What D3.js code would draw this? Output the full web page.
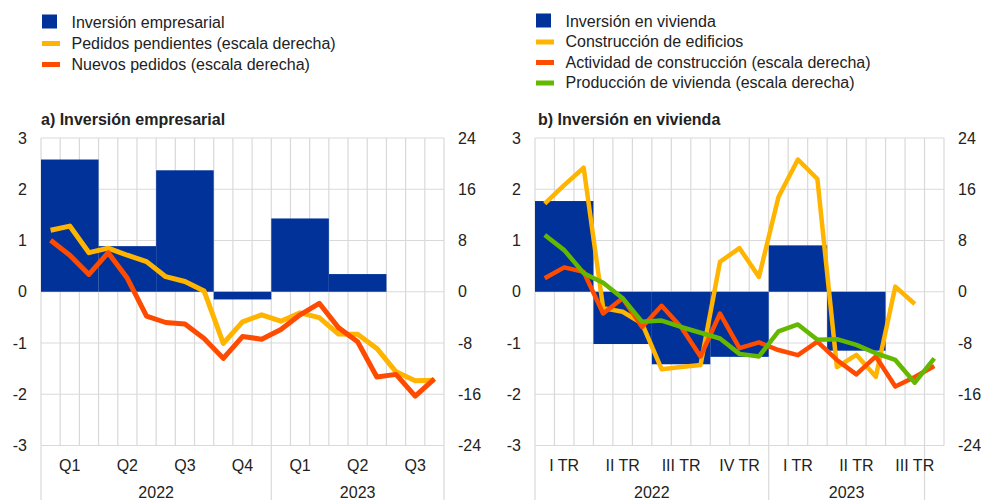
<!DOCTYPE html>
<html>
<head>
<meta charset="utf-8">
<script src="https://cdn.jsdelivr.net/npm/d3@7"></script>
<style>
  body { margin: 0; background: #fff; }
  text { font-family: "Liberation Sans", Arial, sans-serif; fill: #222; }
</style>
</head>
<body>
<svg id="chart"></svg>
<script>
const width = 981;
const height = 500;

// months Jan 2022 .. Sep 2023
const months = d3.range(21);
const quartersA = ['Q1', 'Q2', 'Q3', 'Q4', 'Q1', 'Q2', 'Q3'];
const quartersB = ['I TR', 'II TR', 'III TR', 'IV TR', 'I TR', 'II TR', 'III TR'];
const years = ['2022', '2023'];
const leftTicks = [-3, -2, -1, 0, 1, 2, 3];
const rightTicks = [-24, -16, -8, 0, 8, 16, 24];

// a) business investment (quarterly, left scale)
const businessInvestment = [2.58, 0.89, 2.37, -0.15, 1.43, 0.345];
// monthly, right scale
const pendingOrders = [9.6, 10.25, 6.1, 6.8, 5.7, 4.7, 2.35, 1.6, 0.1, -8.05, -4.7, -3.6,
  -4.6, -3.3, -4.05, -6.6, -6.65, -8.85, -12.5, -13.9, -13.8];
const newOrders = [8.05, 5.7, 2.7, 6.1, 2.1, -3.8, -4.8, -5.05, -7.3, -10.4, -7.0, -7.4,
  -5.9, -3.6, -1.8, -5.6, -7.8, -13.3, -12.9, -16.3, -13.6];

// b) housing investment (quarterly, left scale)
const housingInvestment = [1.77, -1.02, -1.415, -1.27, 0.905, -1.15];
// monthly, left scale
const buildingConstruction = [1.72, 2.08, 2.42, -0.32, -0.39, -0.62, -1.51, -1.47, -1.43, 0.585, 0.85, 0.29,
  1.85, 2.58, 2.2, -1.47, -1.23, -1.66, 0.1, -0.24, null];
// monthly, right scale
const constructionActivity = [2.1, 3.8, 3.1, -3.4, -1.0, -5.5, -2.2, -5.5, -10.1, -3.4, -8.8, -7.9,
  -9.1, -9.9, -7.8, -10.65, -12.9, -10.1, -14.8, -13.3, -11.6];
const housingOutput = [8.85, 6.5, 2.9, 1.4, -1.0, -4.7, -4.5, -5.5, -6.4, -7.3, -9.7, -10.1,
  -6.2, -5.1, -7.5, -7.4, -8.3, -9.6, -10.65, -14.2, -10.4];

const blue = '#003299';
const yellow = '#ffb400';
const orange = '#ff4b00';
const green = '#65b800';
const gridColor = '#d9d9d9';

const svg = d3.select('#chart').attr('width', width).attr('height', height);

function drawPanel(p) {
  const top = 138, bottom = 445.5;
  const x = d3.scaleBand().domain(months).range([p.x0, p.x1]);
  const bw = x.bandwidth();
  const yL = d3.scaleLinear().domain([-3, 3]).range([bottom, top]);
  const yR = d3.scaleLinear().domain([-24, 24]).range([bottom, top]);
  const g = svg.append('g');

  // grid
  g.selectAll('.hgrid').data(leftTicks).enter().append('line')
    .attr('x1', p.x0).attr('x2', p.x1)
    .attr('y1', d => yL(d)).attr('y2', d => yL(d))
    .attr('stroke', gridColor).attr('stroke-width', 1.2);
  g.selectAll('.vgrid').data(d3.range(22)).enter().append('line')
    .attr('x1', i => p.x0 + i * bw).attr('x2', i => p.x0 + i * bw)
    .attr('y1', top).attr('y2', bottom)
    .attr('stroke', gridColor).attr('stroke-width', 1.2);
  // category group separators below axis
  g.selectAll('.sep').data(p.yearBounds).enter().append('line')
    .attr('x1', i => p.x0 + i * bw).attr('x2', i => p.x0 + i * bw)
    .attr('y1', bottom).attr('y2', height)
    .attr('stroke', gridColor).attr('stroke-width', 1.2);

  // bars (quarterly)
  g.selectAll('.bar').data(p.bars).enter().append('rect')
    .attr('x', (d, i) => x(i * 3))
    .attr('width', bw * 3)
    .attr('y', d => yL(Math.max(0, d)))
    .attr('height', d => Math.abs(yL(d) - yL(0)))
    .attr('fill', blue);

  // lines
  p.lines.forEach(s => {
    const y = s.axis === 'right' ? yR : yL;
    const line = d3.line()
      .defined(d => d !== null)
      .x((d, i) => x(i) + bw / 2)
      .y(d => y(d));
    g.append('path')
      .datum(s.values)
      .attr('fill', 'none')
      .attr('stroke', s.color)
      .attr('stroke-width', s.width)
      .attr('stroke-linejoin', 'round')
      .attr('d', line);
  });

  // axes
  const axL = g.append('g').attr('transform', `translate(${p.x0},0)`)
    .call(d3.axisLeft(yL).tickValues(leftTicks).tickSize(0).tickPadding(14).tickFormat(d => String(d)));
  const axR = g.append('g').attr('transform', `translate(${p.x1},0)`)
    .call(d3.axisRight(yR).tickValues(rightTicks).tickSize(0).tickPadding(14).tickFormat(d => String(d)));
  [axL, axR].forEach(a => {
    a.select('.domain').remove();
    a.selectAll('text').style('font-size', '16px').attr('fill', '#222')
      .style('font-family', '"Liberation Sans", Arial, sans-serif');
  });

  // quarter labels
  g.selectAll('.q').data(p.quarters).enter().append('text')
    .attr('x', (d, i) => x(i * 3) + bw * 1.5)
    .attr('y', 471)
    .attr('text-anchor', 'middle')
    .style('font-size', '16px')
    .text(d => d);
  // year labels
  g.selectAll('.yr').data(years).enter().append('text')
    .attr('x', (d, i) => p.x0 + bw * (p.yearBounds[i] + p.yearBounds[i + 1]) / 2)
    .attr('y', 498)
    .attr('text-anchor', 'middle')
    .style('font-size', '16px')
    .text(d => d);

  // title
  g.append('text')
    .attr('x', p.titleX).attr('y', 125)
    .style('font-size', '16px').style('font-weight', 'bold')
    .text(p.title);

  // legend
  p.legend.forEach((item, i) => {
    const ly = p.legendY + i * p.legendStep;
    if (item.type === 'bar') {
      g.append('rect').attr('x', p.legendX).attr('y', ly - 13).attr('width', 15).attr('height', 14).attr('fill', item.color);
    } else {
      g.append('line').attr('x1', p.legendX).attr('x2', p.legendX + 18)
        .attr('y1', ly - 5).attr('y2', ly - 5)
        .attr('stroke', item.color).attr('stroke-width', 5);
    }
    g.append('text').attr('x', p.legendX + 29.5).attr('y', ly)
      .style('font-size', '16px').text(item.label);
  });
}

drawPanel({
  x0: 41, x1: 444, titleX: 41,
  title: 'a) Inversión empresarial',
  yearBounds: [0, 12, 21],
  quarters: quartersA,
  bars: businessInvestment,
  lines: [
    { values: pendingOrders, color: yellow, axis: 'right', width: 5 },
    { values: newOrders, color: orange, axis: 'right', width: 5 }
  ],
  legendX: 42, legendY: 27.5, legendStep: 21,
  legend: [
    { type: 'bar', color: blue, label: 'Inversión empresarial' },
    { type: 'line', color: yellow, label: 'Pedidos pendientes (escala derecha)' },
    { type: 'line', color: orange, label: 'Nuevos pedidos (escala derecha)' }
  ]
});

drawPanel({
  x0: 535, x1: 944, titleX: 538,
  title: 'b) Inversión en vivienda',
  yearBounds: [0, 12, 20],
  quarters: quartersB,
  bars: housingInvestment,
  lines: [
    { values: buildingConstruction, color: yellow, axis: 'left', width: 4.5 },
    { values: constructionActivity, color: orange, axis: 'right', width: 4.5 },
    { values: housingOutput, color: green, axis: 'right', width: 4.5 }
  ],
  legendX: 536, legendY: 26.5, legendStep: 20.5,
  legend: [
    { type: 'bar', color: blue, label: 'Inversión en vivienda' },
    { type: 'line', color: yellow, label: 'Construcción de edificios' },
    { type: 'line', color: orange, label: 'Actividad de construcción (escala derecha)' },
    { type: 'line', color: green, label: 'Producción de vivienda (escala derecha)' }
  ]
});
</script>
</body>
</html>
